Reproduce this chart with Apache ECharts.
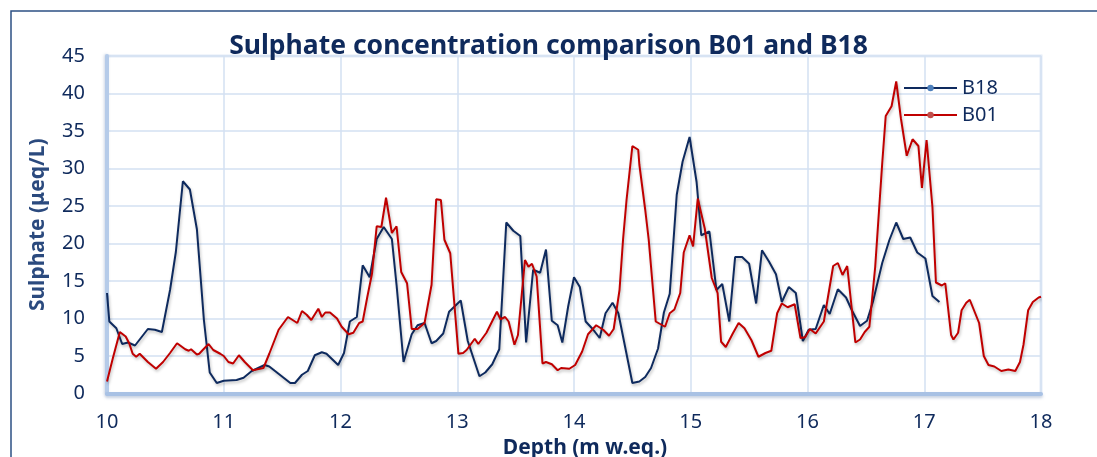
<!DOCTYPE html>
<html>
<head>
<meta charset="utf-8">
<script src="https://cdn.jsdelivr.net/npm/echarts@6/dist/echarts.min.js"></script>
<style>
html,body{margin:0;padding:0;background:#fff;}
#chart{width:1097px;height:457px;}
</style>
</head>
<body>
<div id="chart"></div>
<script>
// ---- Data ----
var chartTitle = 'Sulphate concentration comparison B01 and B18';
var xAxisTitle = 'Depth (m w.eq.)';
var yAxisTitle = 'Sulphate (\u03bceq/L)';
var seriesNames = ['B18', 'B01'];

var b18Depth = [10.00,10.02,10.08,10.13,10.18,10.24,10.35,10.41,10.47,10.54,10.59,10.65,10.71,10.77,10.83,10.88,10.94,11.00,11.11,11.17,11.24,11.35,11.39,11.57,11.61,11.67,11.72,11.78,11.84,11.88,11.98,12.03,12.08,12.14,12.19,12.25,12.31,12.37,12.44,12.48,12.54,12.61,12.66,12.72,12.78,12.82,12.88,12.93,13.03,13.09,13.19,13.24,13.30,13.36,13.42,13.48,13.54,13.59,13.65,13.71,13.76,13.81,13.86,13.90,13.95,14.00,14.05,14.10,14.16,14.22,14.27,14.33,14.38,14.50,14.56,14.61,14.66,14.72,14.77,14.82,14.88,14.93,14.99,15.05,15.09,15.16,15.22,15.27,15.33,15.38,15.44,15.50,15.56,15.61,15.67,15.73,15.78,15.84,15.90,15.96,16.01,16.07,16.14,16.19,16.26,16.33,16.38,16.45,16.51,16.56,16.64,16.70,16.76,16.82,16.88,16.94,17.01,17.07,17.13];
var b18Value = [13.4,9.6,8.7,6.6,6.8,6.4,8.6,8.5,8.2,13.8,18.9,28.3,27.2,21.9,9.8,2.8,1.4,1.7,1.8,2.1,3.0,3.8,3.6,1.4,1.4,2.5,3.0,5.1,5.5,5.3,3.8,5.4,9.6,10.2,17.1,15.5,20.6,22.2,20.6,14.5,4.2,7.9,9.1,9.4,6.7,7.0,8.0,10.9,12.4,7.0,2.3,2.8,3.9,5.9,22.8,21.7,21.0,6.8,16.5,16.1,19.2,9.7,9.1,6.8,11.6,15.5,14.2,9.6,8.6,7.4,10.7,12.1,10.7,1.4,1.6,2.2,3.4,6.0,10.8,13.3,26.5,30.9,34.2,28.2,21.1,21.6,13.8,14.6,9.6,18.2,18.2,17.3,12.0,19.1,17.6,15.9,12.2,14.2,13.4,7.0,8.5,8.6,11.8,10.6,13.9,12.8,11.1,9.0,9.7,12.2,17.4,20.4,22.8,20.6,20.8,18.8,18.0,13.0,12.2];

var b01Depth = [10.00,10.05,10.11,10.16,10.19,10.22,10.25,10.28,10.35,10.42,10.48,10.54,10.60,10.67,10.70,10.72,10.77,10.79,10.82,10.87,10.91,10.97,11.00,11.04,11.08,11.13,11.18,11.25,11.34,11.39,11.47,11.55,11.63,11.67,11.71,11.75,11.81,11.84,11.87,11.91,11.97,12.01,12.07,12.11,12.16,12.19,12.23,12.27,12.31,12.35,12.39,12.44,12.48,12.52,12.57,12.61,12.66,12.72,12.78,12.82,12.86,12.89,12.94,13.01,13.05,13.08,13.15,13.18,13.25,13.34,13.37,13.41,13.44,13.49,13.52,13.58,13.61,13.64,13.68,13.73,13.76,13.81,13.86,13.89,13.96,14.01,14.07,14.12,14.19,14.25,14.30,14.34,14.39,14.42,14.45,14.50,14.55,14.56,14.61,14.64,14.70,14.78,14.82,14.86,14.91,14.94,14.99,15.02,15.06,15.12,15.18,15.23,15.26,15.30,15.36,15.41,15.46,15.52,15.58,15.64,15.69,15.74,15.78,15.83,15.89,15.94,15.98,16.02,16.07,16.14,16.22,16.26,16.30,16.34,16.41,16.45,16.49,16.53,16.58,16.64,16.67,16.72,16.76,16.80,16.85,16.90,16.95,16.98,17.02,17.07,17.10,17.15,17.18,17.23,17.25,17.29,17.32,17.36,17.39,17.47,17.51,17.55,17.60,17.66,17.72,17.78,17.82,17.85,17.89,17.93,17.98,18.00];
var b01Value = [1.6,4.7,8.2,7.6,6.7,5.3,4.9,5.3,4.2,3.3,4.2,5.4,6.7,5.9,5.7,5.9,5.2,5.3,5.8,6.6,5.8,5.3,5.0,4.2,4.0,5.1,4.2,3.1,3.4,5.3,8.5,10.2,9.4,11.0,10.5,9.8,11.3,10.2,10.8,10.8,10.0,8.9,7.9,8.1,9.4,9.6,12.9,16.0,22.3,22.2,26.1,21.4,22.3,16.2,14.7,8.6,8.6,9.4,14.5,25.9,25.8,20.5,18.7,5.3,5.4,5.8,7.3,6.6,8.1,10.9,9.9,10.2,9.6,6.5,7.8,17.8,16.9,17.3,15.6,4.0,4.2,3.9,3.1,3.4,3.3,3.8,5.6,7.9,9.1,8.5,7.7,8.6,13.8,20.5,25.8,33.0,32.5,30.5,24.5,20.5,9.6,8.9,10.7,11.2,13.4,18.8,21.1,19.6,26.0,22.0,15.4,13.4,6.9,6.2,8.0,9.4,8.7,7.1,4.9,5.4,5.7,10.7,12.0,11.5,11.9,7.4,7.5,8.6,8.0,9.6,17.0,17.4,15.8,17.0,6.8,7.2,8.2,8.9,16.9,30.7,37.0,38.3,41.6,36.7,31.7,33.9,33.0,27.4,33.8,24.9,14.8,14.4,14.7,7.8,7.2,8.1,11.1,12.1,12.5,9.4,5.0,3.8,3.6,3.0,3.2,3.0,4.2,6.5,11.1,12.2,12.8,12.9];

// ---- Build pairs for the library ----
function pairs(xs, ys) { return xs.map(function (x, i) { return [x, ys[i]]; }); }

var navy = '#0f2a5c';
var font = '"Noto Sans", sans-serif';

var chart = echarts.init(document.getElementById('chart'), null, {renderer: 'canvas'});
chart.setOption({
  animation: false,
  backgroundColor: '#ffffff',
  title: {
    text: chartTitle,
    left: 'center',
    top: 28,
    textStyle: {fontFamily: font, fontSize: 26.5, fontWeight: 'bold', color: navy}
  },
  legend: {
    orient: 'vertical',
    left: 903,
    top: 78,
    padding: 0,
    itemWidth: 53,
    itemHeight: 8,
    itemGap: 7,
    textStyle: {fontFamily: font, fontSize: 20, color: navy},
    data: seriesNames
  },
  grid: {
    left: 107, right: 56, top: 56, bottom: 63.5,
    outerBoundsMode: 'none',
    containLabel: false,
    show: true,
    borderColor: '#e4ecf7',
    borderWidth: 3
  },
  xAxis: {
    type: 'value',
    min: 10, max: 18, interval: 1,
    name: xAxisTitle,
    nameLocation: 'middle',
    nameGap: 41,
    nameTextStyle: {fontFamily: font, fontSize: 21, fontWeight: 'bold', color: navy, padding: [0, 0, 0, 22]},
    axisLine: {show: true, lineStyle: {color: '#a8c1e4', width: 4, shadowColor: 'rgba(90,120,170,0.35)', shadowBlur: 3, shadowOffsetY: 2}},
    axisTick: {show: false},
    axisLabel: {fontFamily: font, fontSize: 20, color: navy, margin: 19},
    splitLine: {show: true, lineStyle: {color: '#d3e1f2', width: 1.5}}
  },
  yAxis: {
    type: 'value',
    min: 0, max: 45, interval: 5,
    name: yAxisTitle,
    nameLocation: 'middle',
    nameGap: 58,
    nameTextStyle: {fontFamily: font, fontSize: 21, fontWeight: 'bold', color: '#2b4a7e'},
    axisLine: {show: true, lineStyle: {color: '#b5cbe9', width: 4, shadowColor: 'rgba(90,120,170,0.3)', shadowBlur: 3, shadowOffsetX: -1}},
    axisTick: {show: false},
    axisLabel: {fontFamily: font, fontSize: 20, color: navy, margin: 22},
    splitLine: {show: true, lineStyle: {color: '#d3e1f2', width: 1.5}}
  },
  series: [
    {
      name: seriesNames[0],
      type: 'line',
      data: pairs(b18Depth, b18Value),
      symbol: 'circle',
      symbolSize: 8,
      showSymbol: false,
      itemStyle: {color: '#4f81bd'},
      lineStyle: {color: '#0e2a5e', width: 2, shadowColor: 'rgba(0,0,0,0.25)', shadowBlur: 3, shadowOffsetX: 1, shadowOffsetY: 2}
    },
    {
      name: seriesNames[1],
      type: 'line',
      data: pairs(b01Depth, b01Value),
      symbol: 'circle',
      symbolSize: 8,
      showSymbol: false,
      itemStyle: {color: '#c0504d'},
      lineStyle: {color: '#c00000', width: 2, shadowColor: 'rgba(0,0,0,0.25)', shadowBlur: 3, shadowOffsetX: 1, shadowOffsetY: 2}
    }
  ],
  graphic: [
    {
      type: 'rect',
      left: 8.5, top: 8.5,
      shape: {width: 1200, height: 600},
      style: {fill: null, stroke: '#2c5084', lineWidth: 1.5},
      silent: true
    }
  ]
});
</script>
</body>
</html>
